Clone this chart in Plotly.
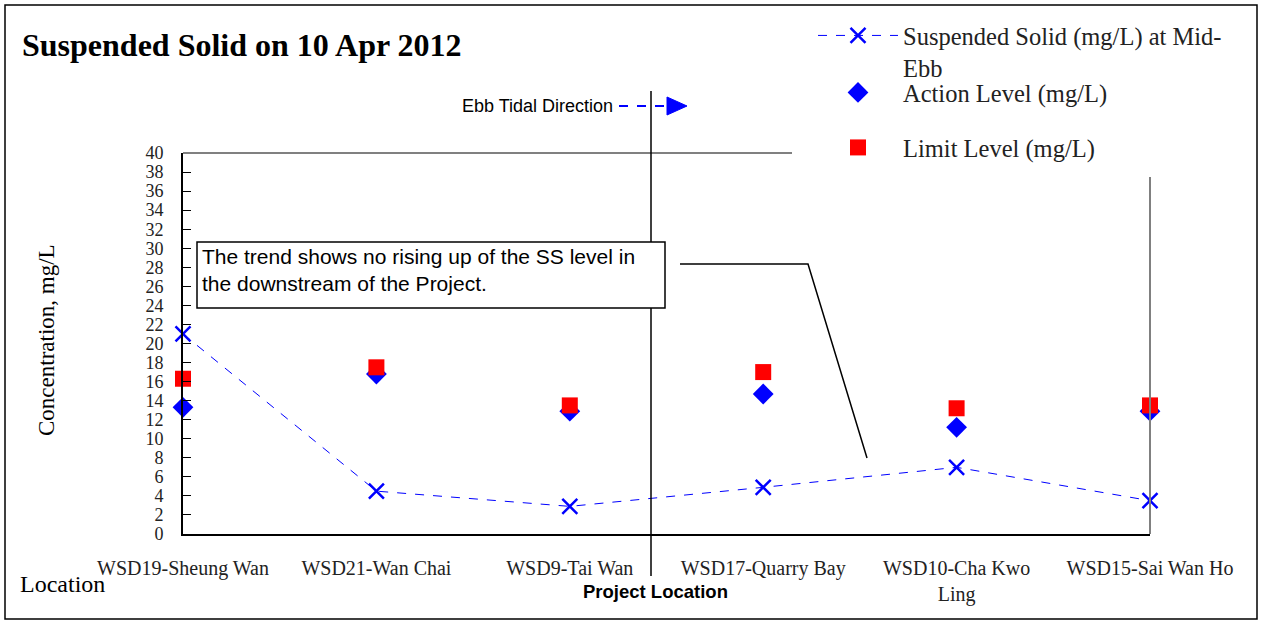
import plotly.graph_objects as go

# ---- data ----
locations = ["WSD19-Sheung Wan", "WSD21-Wan Chai", "WSD9-Tai Wan",
             "WSD17-Quarry Bay", "WSD10-Cha Kwo Ling", "WSD15-Sai Wan Ho"]
location_labels = ["WSD19-Sheung Wan", "WSD21-Wan Chai", "WSD9-Tai Wan",
                   "WSD17-Quarry Bay", "WSD10-Cha Kwo<br>Ling", "WSD15-Sai Wan Ho"]
ss_mid_ebb = [21.0, 4.5, 2.9, 4.9, 7.0, 3.5]
action_level = [13.3, 16.8, 12.9, 14.7, 11.2, 12.9]
limit_level = [16.3, 17.5, 13.5, 17.0, 13.2, 13.5]
y_ticks = list(range(0, 41, 2))

W, H = 1261, 623
L, R, T, B = 183, 1150, 153, 534


def px(x):
    return (x - L) / (R - L)


def py(y):
    return (B - y) / (B - T)


SERIF = "Liberation Serif"
SANS = "Liberation Sans"

fig = go.Figure()
fig.add_trace(go.Scatter(
    x=locations, y=ss_mid_ebb, mode="lines+markers",
    name="Suspended Solid (mg/L) at Mid-<br>Ebb",
    line=dict(color="#0000FF", width=1, dash="dash"),
    marker=dict(symbol="x-thin", size=15, color="#0000FF",
                line=dict(width=2.5, color="#0000FF")),
    cliponaxis=False, legend="legend"))
fig.add_trace(go.Scatter(
    x=locations, y=action_level, mode="markers", name="Action Level (mg/L)",
    marker=dict(symbol="diamond", size=16, color="#0000FF"),
    cliponaxis=False, legend="legend2"))
fig.add_trace(go.Scatter(
    x=locations, y=limit_level, mode="markers", name="Limit Level (mg/L)",
    marker=dict(symbol="square", size=16, color="#FF0000"),
    cliponaxis=False, legend="legend3"))

shapes = [
    # outer frame
    dict(type="rect", xref="paper", yref="paper", x0=px(5), x1=px(1257), y0=py(619), y1=py(5),
         line=dict(color="#000000", width=1.5)),
    # gray top / right border of plot area
    dict(type="line", xref="paper", yref="paper", x0=px(183), x1=px(792), y0=py(153), y1=py(153),
         line=dict(color="#808080", width=2)),
    dict(type="line", xref="paper", yref="paper", x0=px(1150), x1=px(1150), y0=py(177), y1=py(534),
         line=dict(color="#808080", width=2)),
    # project location line
    dict(type="line", xref="paper", yref="paper", x0=px(651), x1=px(651), y0=py(91), y1=py(576),
         line=dict(color="#000000", width=1.5)),
    # ebb tidal arrow (dashed)
    dict(type="line", xref="paper", yref="paper", x0=px(619), x1=px(668), y0=py(106), y1=py(106),
         line=dict(color="#0000FF", width=2, dash="dash")),
    dict(type="path", xref="paper", yref="paper",
         path=f"M {px(667)} {py(97)} L {px(687)} {py(106)} L {px(667)} {py(115)} Z",
         fillcolor="#0000FF", line=dict(color="#0000FF", width=1)),
    # callout box
    dict(type="rect", xref="paper", yref="paper", x0=px(197), x1=px(665), y0=py(308), y1=py(242),
         fillcolor="white", line=dict(color="#000000", width=1.5), layer="above"),
    # callout line
    dict(type="path", xref="paper", yref="paper",
         path=f"M {px(680)} {py(264)} L {px(808)} {py(264)} L {px(867)} {py(458)}",
         line=dict(color="#000000", width=1.5)),
]

annotations = [
    dict(text="<b>Suspended Solid on 10 Apr 2012</b>", xref="paper", yref="paper",
         x=px(20), y=py(45), xanchor="left", yanchor="middle", showarrow=False,
         font=dict(family=SERIF, size=32, color="#000000")),
    dict(text="Concentration, mg/L", xref="paper", yref="paper", textangle=-90,
         x=px(46), y=py(340), xanchor="center", yanchor="middle", showarrow=False,
         font=dict(family=SERIF, size=23, color="#000000")),
    dict(text="Location", xref="paper", yref="paper",
         x=px(18), y=py(584), xanchor="left", yanchor="middle", showarrow=False,
         font=dict(family=SERIF, size=24, color="#000000")),
    dict(text="<b>Project Location</b>", xref="paper", yref="paper",
         x=px(655), y=py(591), xanchor="center", yanchor="middle", showarrow=False,
         font=dict(family=SANS, size=18.5, color="#000000")),
    dict(text="Ebb Tidal Direction", xref="paper", yref="paper",
         x=px(460), y=py(106), xanchor="left", yanchor="middle", showarrow=False,
         font=dict(family=SANS, size=18, color="#000000")),
    dict(text="The trend shows no rising up of the SS level in<br>the downstream of the Project.",
         xref="paper", yref="paper", x=px(200), y=py(270), xanchor="left", yanchor="middle",
         align="left", showarrow=False,
         font=dict(family=SANS, size=21, color="#000000")),
]

legend_common = dict(xanchor="left", yanchor="top", bgcolor="rgba(255,255,255,0)",
                     borderwidth=0, itemwidth=80, valign="top",
                     font=dict(family=SERIF, size=24.5, color="#222222"))

fig.update_layout(
    width=W, height=H,
    margin=dict(l=L, r=W - R, t=T, b=H - B, autoexpand=False),
    paper_bgcolor="white", plot_bgcolor="white",
    shapes=shapes, annotations=annotations,
    xaxis=dict(type="category", categoryorder="array", categoryarray=locations,
               range=[0, len(locations) - 1], tickmode="array", tickvals=locations,
               ticktext=location_labels, showgrid=False, zeroline=False,
               showline=True, linecolor="#000000", linewidth=2, ticks="",
               tickfont=dict(family=SERIF, size=20, color="#222222"),
               ticklabelstandoff=15),
    yaxis=dict(range=[0, 40], tickmode="array", tickvals=y_ticks,
               showgrid=False, zeroline=False, showline=True, linecolor="#000000",
               linewidth=2, ticks="inside", ticklen=8, tickcolor="#000000",
               tickfont=dict(family=SERIF, size=18, color="#222222"),
               ticklabelstandoff=14),
    legend=dict(x=px(813), y=py(13), **legend_common),
    legend2=dict(x=px(813), y=py(70), **legend_common),
    legend3=dict(x=px(813), y=py(125), **legend_common),
    showlegend=True,
)

fig.write_html("out.html", config={"displayModeBar": False},
               post_script="document.body.style.margin='0px';")
